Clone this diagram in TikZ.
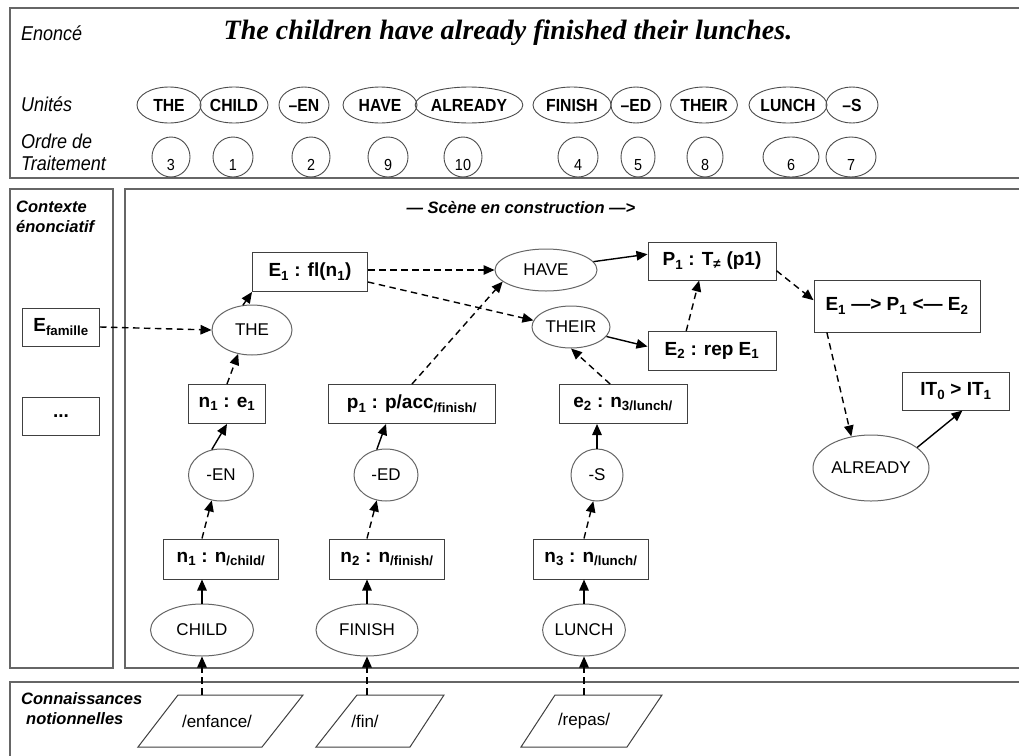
\documentclass[tikz,border=0pt]{standalone}
\usepackage{fontspec}
\setmainfont{Liberation Sans}
\newfontfamily\serifbi{Liberation Serif}
\newfontfamily\narrowsans[FakeStretch=0.9]{Liberation Sans}
\usetikzlibrary{shapes.geometric,arrows.meta,calc}
\newcommand\setfs[1]{\fontsize{#1}{#1}\selectfont}
\newcommand\lowtxt[1]{\raisebox{-13.5pt}[0pt][0pt]{#1}}
\begin{document}
\begin{tikzpicture}[x=1pt,y=-1pt,
  frame/.style={draw=black!60,line width=1.4pt},
  lab/.style={inner sep=0pt,font=\setfs{20}\narrowsans\itshape},
  hdr/.style={inner sep=0pt,font=\setfs{16.5}\bfseries\itshape},
  sent/.style={inner sep=0pt,font=\setfs{28}\serifbi\bfseries\itshape},
  unit/.style={ellipse,draw=black!70,line width=0.9pt,inner sep=0pt,minimum height=36pt,font=\setfs{17.5}\narrowsans\bfseries},
  ord/.style={ellipse,draw=black!70,line width=0.9pt,inner sep=0pt,minimum height=40pt,font=\setfs{16}\narrowsans},
  box/.style={rectangle,draw=black!75,line width=1pt,inner sep=0pt,font=\setfs{19}\bfseries},
  oval/.style={ellipse,draw=black!60,line width=1pt,inner sep=0pt,font=\setfs{17}},
  para/.style={draw=black!75,line width=1pt},
  ptxt/.style={inner sep=0pt,minimum height=52pt,font=\setfs{17}},
  arr/.style={-{Triangle[length=11pt,width=9.5pt]},line width=1.4pt,black},
  dsh/.style={arr,dash pattern=on 6.5pt off 4.5pt}
]
\useasboundingbox (0,0) rectangle (1019,755);
\clip (0,0) rectangle (1019,755);
\fill[white] (0,0) rectangle (1019,755);

% ---------- top frame ----------
\draw[frame] (10,8) rectangle (1040,178);
\node[lab,anchor=west] (enonce) at (21,33) {Enoncé};
\node[sent] (sentence) at (508,33) {The children have already finished their lunches.};
\node[lab,anchor=west] (unites) at (21,104) {Unités};
\node[lab,anchor=west] (ordre) at (21,141) {Ordre de};
\node[lab,anchor=west] (trait) at (21,163) {Traitement};

\foreach \nm/\x/\w/\t in {uthe/169/64/THE, uchild/234/64/CHILD, uen/304/50/–EN,
  uhave/380/74/HAVE, ualready/469/102/ALREADY, ufinish/572/78/FINISH,
  ued/636/50/–ED, utheir/704/64/THEIR, ulunch/788/76/LUNCH, us/852/52/–S}
  \node[unit,minimum width=\w pt] (\nm) at (\x,105) {\t};

\foreach \nm/\x/\w/\t in {o3/171/38/3, o1/233/40/1, o2/311/38/2, o9/388/40/9,
  o10/463/38/10, o4/578/40/4, o5/638/34/5, o8/705/36/8, o6/791/56/6, o7/851/50/7}
  \node[ord,minimum width=\w pt] (\nm) at (\x,157) {\lowtxt{\t}};

% ---------- middle frames ----------
\draw[frame] (10,189) rectangle (113,668);
\draw[frame] (125,189) rectangle (1040,668);
\draw[frame] (10,682) rectangle (1040,770);

\node[hdr,anchor=west] (ctx1) at (16,207) {Contexte};
\node[hdr,anchor=west] (ctx2) at (16,227) {énonciatif};
\node[hdr] (scene) at (521,208) {— Scène en construction —>};
\node[hdr,anchor=west] (cn1) at (21,699) {Connaissances};
\node[hdr,anchor=west] (cn2) at (26,719) {notionnelles};

\node[box,minimum width=77pt,minimum height=38pt] (efam) at (61,327) {E\textsubscript{famille}};
\node[box,minimum width=77pt,minimum height=38pt] (dots) at (61,416) {...};

% ---------- scene nodes ----------
\node[box,minimum width=115pt,minimum height=39pt] (e1) at (310,272) {E\textsubscript{1} : fl(n\textsubscript{1})};
\node[oval,minimum width=80pt,minimum height=50pt] (the) at (252,330) {THE};
\node[box,minimum width=77pt,minimum height=39pt] (n1e1) at (227,404) {n\textsubscript{1} : e\textsubscript{1}};
\node[oval,minimum width=65pt,minimum height=52pt] (en) at (221,475) {-EN};
\node[box,minimum width=115pt,minimum height=40pt] (n1c) at (221,559) {n\textsubscript{1} : n\textsubscript{/child/}};
\node[oval,minimum width=103pt,minimum height=52pt] (child) at (202,630) {CHILD};

\node[box,minimum width=167pt,minimum height=39pt] (p1) at (412,404) {p\textsubscript{1} : p/acc\textsubscript{/finish/}};
\node[oval,minimum width=64pt,minimum height=52pt] (ed) at (386,475) {-ED};
\node[box,minimum width=115pt,minimum height=40pt] (n2f) at (387,559) {n\textsubscript{2} : n\textsubscript{/finish/}};
\node[oval,minimum width=102pt,minimum height=52pt] (finish) at (367,630) {FINISH};

\node[oval,minimum width=102pt,minimum height=42pt] (have) at (546,270) {HAVE};
\node[oval,minimum width=78pt,minimum height=42pt] (their) at (571,327) {THEIR};
\node[box,minimum width=128pt,minimum height=38pt] (P1) at (712,261) {P\textsubscript{1} : T\textsubscript{≠} (p1)};
\node[box,minimum width=128pt,minimum height=39pt] (E2) at (712,351) {E\textsubscript{2} : rep E\textsubscript{1}};
\node[box,minimum width=128pt,minimum height=39pt] (e2) at (623,404) {e\textsubscript{2} : n\textsubscript{3/lunch/}};
\node[oval,minimum width=52pt,minimum height=52pt] (s) at (597,475) {-S};
\node[box,minimum width=115pt,minimum height=40pt] (n3l) at (591,559) {n\textsubscript{3} : n\textsubscript{/lunch/}};
\node[oval,minimum width=77pt,minimum height=52pt] (lunch) at (584,630) {LUNCH};

\node[box,minimum width=166pt,minimum height=52pt] (Ebox) at (897,306) {E\textsubscript{1} —> P\textsubscript{1} <— E\textsubscript{2}};
\node[box,minimum width=107pt,minimum height=38pt] (IT) at (956,391) {IT\textsubscript{0} > IT\textsubscript{1}};
\node[oval,minimum width=116pt,minimum height=66pt] (already) at (871,468) {ALREADY};

% ---------- notional knowledge ----------
\draw[para] (138,747) -- (178,695) -- (303,695) -- (262,747) -- cycle;
\draw[para] (316,747) -- (357,695) -- (444,695) -- (410,747) -- cycle;
\draw[para] (521,747) -- (555,695) -- (662,695) -- (627,747) -- cycle;
\node[ptxt] (enf) at (217,721) {/enfance/};
\node[ptxt] (fin) at (365,721) {/fin/};
\node[ptxt] (repas) at (584,721) {/repas/};

% ---------- connectors ----------
\draw[dsh] (efam.east) -- (the.west);
\draw[arr] (the.110) -- (e1.south west);
\draw[dsh] (n1e1.north) -- (the.240);
\draw[arr] (en.110) -- (n1e1.south);
\draw[dsh] (n1c.north -| child.north) -- (en.250);
\draw[arr] (child.north) -- (n1c.south -| child.north);
\draw[dsh] (enf.north -| child.south) -- (child.south);

\draw[arr] (finish.north) -- (n2f.south -| finish.north);
\draw[dsh] (n2f.north -| finish.north) -- (ed.250);
\draw[arr] (ed.110) -- (p1.south -| ed.north);
\draw[dsh] (fin.north -| finish.south) -- (finish.south);
\draw[dsh] (p1.north) -- (have.195);

\draw[dsh] (e1.east |- have.west) -- (have.west);
\draw[dsh] ($(e1.east)!0.5!(e1.south east)$) -- (their.170);
\draw[arr] (have.10) -- (P1.174);
\draw[arr] (their.-15) -- (E2.176);
\draw[dsh] ($(E2.north west)!0.3!(E2.north east)$) -- ($(P1.south west)!0.4!(P1.south east)$);
\draw[dsh] ($(e2.north west)!0.4!(e2.north east)$) -- (their.south);
\draw[arr] (s.north) -- (e2.south -| s.north);
\draw[dsh] (n3l.north -| lunch.north) -- (s.262);
\draw[arr] (lunch.north) -- (n3l.south -| lunch.north);
\draw[dsh] (repas.north -| lunch.south) -- (lunch.south);

\draw[dsh] ($(P1.east)!0.5!(P1.south east)$) -- (Ebox.176);
\draw[dsh] ($(Ebox.south west)!0.08!(Ebox.south east)$) -- (already.122);
\draw[arr] (already.24) -- ($(IT.south west)!0.56!(IT.south east)$);
\end{tikzpicture}
\end{document}
